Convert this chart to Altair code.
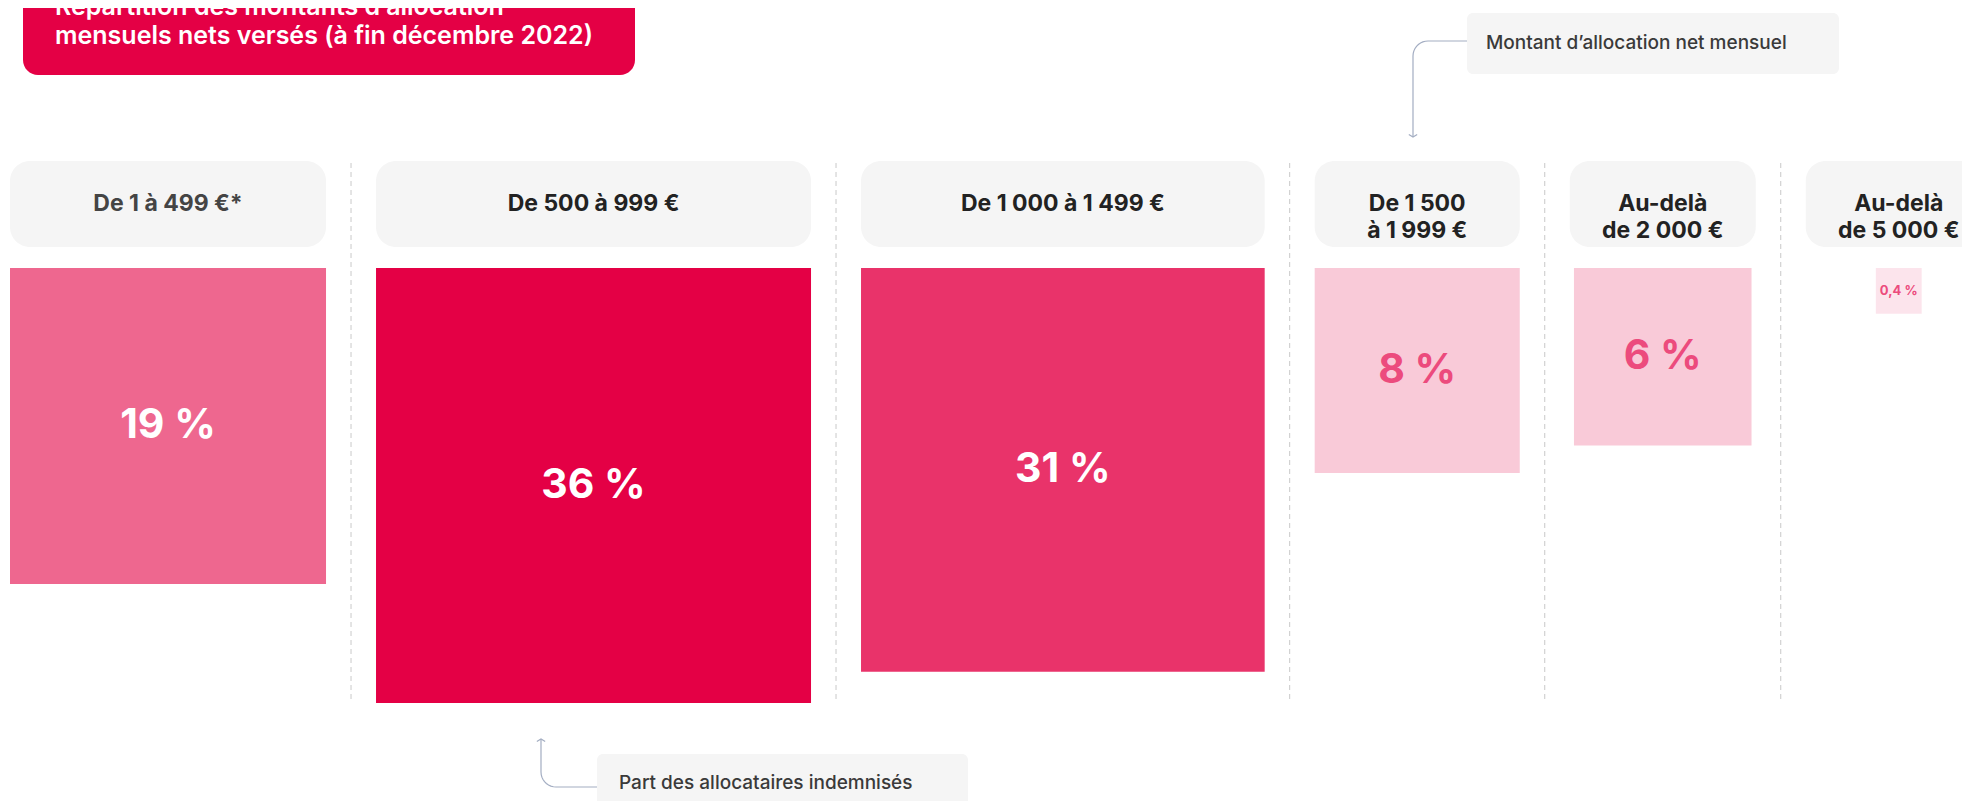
import altair as alt
import numpy as np
import pandas as pd

# ---------------- data ----------------
categories = ["De 1 à 499 €*", "De 500 à 999 €", "De 1 000 à 1 499 €",
              "De 1 500\nà 1 999 €", "Au-delà\nde 2 000 €", "Au-delà\nde 5 000 €"]
shares = [19, 36, 31, 8, 6, 0.4]
share_labels = ["19 %", "36 %", "31 %", "8 %", "6 %", "0,4 %"]
title_lines = ["Répartition des montants d’allocation",
               "mensuels nets versés (à fin décembre 2022)"]
note_top = "Montant d’allocation net mensuel"
note_bottom = "Part des allocataires indemnisés"

# ---------------- styles ----------------
square_colors = ["#EE678F", "#E40045", "#E9336A", "#F9CAD8", "#F9CAD8", "#FCE4EC"]
RED = "#E40045"
BOX_GREY = "#F5F5F5"
LINK = "#A3ADC2"
FONT = "Inter"

# ---------------- layout (page pixel space) ----------------
W, H = 1954, 793          # plot area; page margin is 8px
K = 72.5                  # px per sqrt(percent): square area ∝ share
MIN_BLOCK = 186
GAP = 50
LEFT = 10
SQ_TOP = 268
HEAD_TOP, HEAD_BOT = 161, 247

rows = []
left = LEFT
for i, (c, v, lab) in enumerate(zip(categories, shares, share_labels)):
    side = K * np.sqrt(v)
    block = max(side, MIN_BLOCK)
    cx = left + block / 2
    rows.append(dict(cat=c, value=v, label=lab, idx=i,
                     hx1=left, hx2=left + block, hy1=HEAD_TOP, hy2=HEAD_BOT,
                     hy=(HEAD_TOP + HEAD_BOT) / 2,
                     sx1=cx - side / 2, sx2=cx + side / 2,
                     sy1=SQ_TOP, sy2=SQ_TOP + side, cx=cx, ly=SQ_TOP + side / 2,
                     fs=41 if side > 100 else 13))
    left += block + GAP
df = pd.DataFrame(rows)
sep_df = pd.DataFrame({"x": [r["hx2"] + GAP / 2 for r in rows[:-1]],
                       "y1": 163, "y2": 700})

xs = alt.Scale(domain=[8, 8 + W], range=[0, W], nice=False, zero=False)
ys = alt.Scale(domain=[8 + H, 8], nice=False, zero=False)


def X(f):
    return alt.X(f, type="quantitative", scale=xs, axis=None)


def Y(f):
    return alt.Y(f, type="quantitative", scale=ys, axis=None)


# headers
headers = alt.Chart(df).mark_rect(fill=BOX_GREY, cornerRadius=20).encode(
    x=X("hx1"), x2="hx2", y=Y("hy1"), y2="hy2")
header_text = alt.Chart(df).mark_text(
    font=FONT, fontSize=23, fontWeight="bold", lineBreak="\n", lineHeight=27,
    baseline="middle", align="center").encode(
    x=X("cx"), y=Y("hy"), text="cat:N",
    color=alt.condition("datum.idx == 0", alt.value("#444444"), alt.value("#222222")))

# squares
squares = alt.Chart(df).mark_rect().encode(
    x=X("sx1"), x2="sx2", y=Y("sy1"), y2="sy2",
    color=alt.Color("cat:N", scale=alt.Scale(domain=categories, range=square_colors),
                    legend=None))
square_text = alt.Chart(df).mark_text(
    font=FONT, fontWeight="bold", baseline="middle", align="center").encode(
    x=X("cx"), y=Y("ly"), text="label:N",
    size=alt.Size("fs:Q", scale=None, legend=None),
    color=alt.condition("datum.value >= 15", alt.value("white"), alt.value("#EC4B7D")))

# separators
seps = alt.Chart(sep_df).mark_rule(color="#C9C9C9", strokeWidth=1, strokeDash=[5, 4]).encode(
    x=X("x"), y=Y("y1"), y2="y2")

# title box
title_df = pd.DataFrame({"x1": [23], "x2": [635], "y1": [-40], "y2": [75]})
title_box = alt.Chart(title_df).mark_rect(fill=RED, cornerRadius=15).encode(
    x=X("x1"), x2="x2", y=Y("y1"), y2="y2")
title_txt_df = pd.DataFrame({"t": title_lines, "x": [55, 55], "y": [15, 44]})
title_text = alt.Chart(title_txt_df).mark_text(
    font=FONT, fontSize=25, fontWeight=600, color="white", align="left",
    baseline="alphabetic").encode(x=X("x"), y=Y("y"), text="t:N")

# notes
notes_df = pd.DataFrame({"x1": [1467, 597], "x2": [1839, 968], "y1": [13, 754],
                         "y2": [74, 840], "tx": [1486, 619], "ty": [43, 783],
                         "t": [note_top, note_bottom]})
note_boxes = alt.Chart(notes_df).mark_rect(fill=BOX_GREY, cornerRadius=6).encode(
    x=X("x1"), x2="x2", y=Y("y1"), y2="y2")
note_text = alt.Chart(notes_df).mark_text(
    font=FONT, fontSize=19, fontWeight=500, color="#3A3A3A", align="left",
    baseline="middle").encode(x=X("tx"), y=Y("ty"), text="t:N")

# connectors with rounded corners
R = 15
th = np.linspace(0, np.pi / 2, 10)
pa = [(1467, 41)] + [(1428 - R * np.sin(t), 56 - R * np.cos(t)) for t in th] + [(1413, 137)]
pb = [(597, 787)] + [(556 - R * np.sin(t), 772 + R * np.cos(t)) for t in th] + [(541, 739)]
link_rows = []
for g, pts in (("a", pa), ("b", pb)):
    for i, (px, py) in enumerate(pts):
        link_rows.append(dict(g=g, i=i, x=px, y=py))
link_df = pd.DataFrame(link_rows)
links = alt.Chart(link_df).mark_line(color=LINK, strokeWidth=1.2).encode(
    x=X("x"), y=Y("y"), detail="g:N", order="i:Q")

arrow_df = pd.DataFrame({"x": [1413, 541], "y": [137, 739],
                         "shape": ["M -1 -0.6 L 0 0 L 1 -0.6", "M -1 0.6 L 0 0 L 1 0.6"]})
arrows = alt.Chart(arrow_df).mark_point(filled=False, color=LINK, strokeWidth=1.2,
                                         size=70, opacity=1).encode(
    x=X("x"), y=Y("y"),
    shape=alt.Shape("shape:N", scale=None, legend=None))

chart = alt.layer(
    title_box, title_text, note_boxes, note_text, links, arrows,
    seps, headers, header_text, squares, square_text
).properties(
    width=W, height=H, padding=0, autosize=alt.AutoSizeParams(type="none"),
    background="white"
).configure_view(stroke=None)

chart.save("out.html", embed_options={"renderer": "svg", "actions": False})
